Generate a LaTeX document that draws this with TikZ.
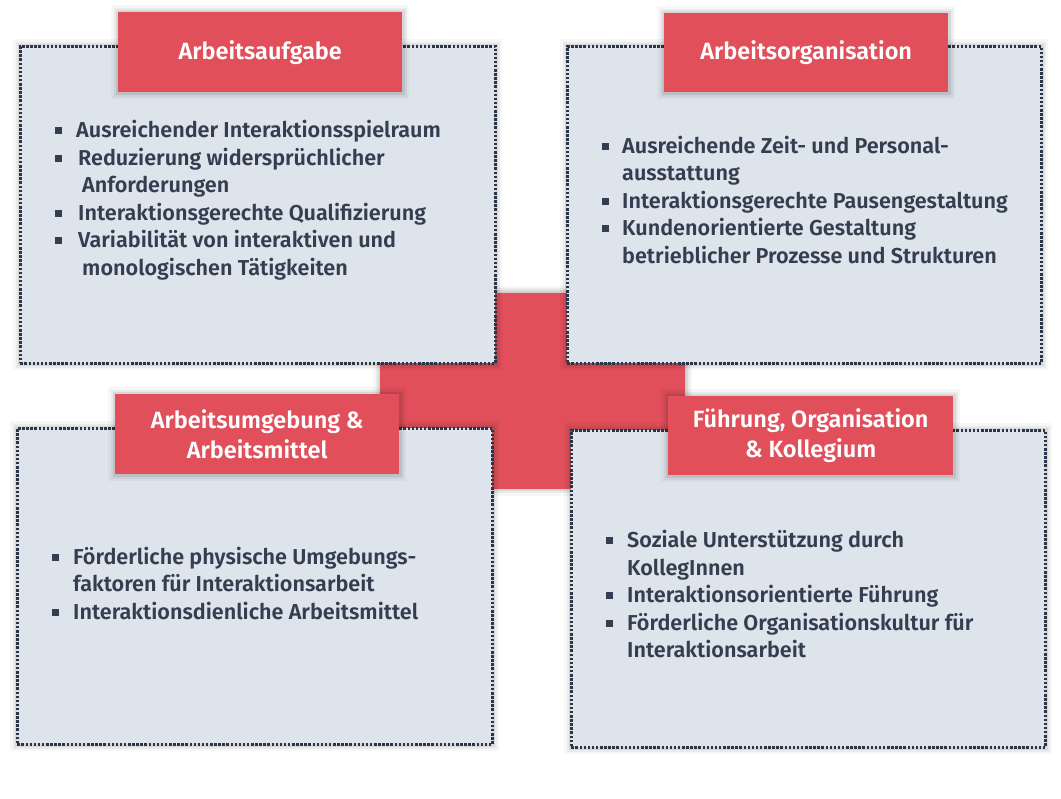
\documentclass[tikz,border=0pt]{standalone}
\usepackage{fontspec}
\setmainfont{Fira Sans SemiBold}
\newfontfamily\titlefont{Fira Sans SemiBold}
\usetikzlibrary{calc}
\definecolor{crossred}{HTML}{E04F5A}
\definecolor{boxfill}{HTML}{DEE4EB}
\definecolor{dotline}{HTML}{2A3548}
\definecolor{bodytext}{HTML}{333F50}
\newcommand\bul{\textcolor{bodytext}{\rule[3.5pt]{7pt}{7pt}}}
\tikzset{
  softshadow/.style={
    preaction={draw=black,solid,draw opacity=0.03,line width=14pt},
    preaction={draw=black,solid,draw opacity=0.05,line width=9pt},
    preaction={draw=black,solid,draw opacity=0.08,line width=5pt}},
  panel/.style={softshadow, rectangle, fill=boxfill, draw=dotline,
    line width=2.6pt, dash pattern=on 2.5pt off 1.6pt, inner sep=0pt, anchor=north west},
  titlebox/.style={softshadow, rectangle, fill=crossred, text=white, inner sep=0pt,
    anchor=north west, align=center, font=\titlefont\fontsize{23.5}{30}\selectfont},
  itemtext/.style={anchor=base west, inner sep=0pt, text=bodytext,
    font=\fontsize{21.6}{27.5}\selectfont},
}
\begin{document}
\begin{tikzpicture}[x=1pt,y=-1pt]
\useasboundingbox[fill=white] (0,0) rectangle (1061,799);
% cross
\fill[crossred, softshadow] (482,293) -- (583,293) -- (583,343) -- (685,343) -- (685,440)
  -- (583,440) -- (583,489) -- (482,489) -- (482,440) -- (380,440) -- (380,343)
  -- (482,343) -- cycle;
% panels
\node[panel, minimum width=475pt, minimum height=317pt] (b1) at (19,45) {};
\node[panel, minimum width=474pt, minimum height=317pt] (b2) at (566,45) {};
\node[panel, minimum width=475pt, minimum height=316pt] (b3) at (16,427) {};
\node[panel, minimum width=474pt, minimum height=317pt] (b4) at (570,429) {};
% titles
\node[titlebox, minimum width=284pt, minimum height=80pt] (t1) at (118,12) {Arbeitsaufgabe};
\node[titlebox, minimum width=284pt, minimum height=79pt] (t2) at (664,13) {Arbeitsorganisation};
\node[titlebox, minimum width=284pt, minimum height=80pt] (t3) at (115,394) {Arbeitsumgebung \&\\Arbeitsmittel};
\node[titlebox, minimum width=285pt, minimum height=79pt] (t4) at (668,396) {Führung, Organisation\\\& Kollegium};
% items
\node[itemtext] (i1) at (55,138) {\begin{tabular}[t]{@{}l@{\hspace{14pt}}l@{}}
\bul & Ausreichender Interaktionsspielraum\\
\bul & \hspace*{2pt}Reduzierung widersprüchlicher\\
     & \hspace*{6pt}Anforderungen\\
\bul & \hspace*{2pt}Interaktionsgerechte Qualifizierung\\
\bul & \hspace*{2pt}Variabilität von interaktiven und\\
     & \hspace*{6pt}monologischen Tätigkeiten
\end{tabular}};
\node[itemtext] (i2) at (602,153.5) {\begin{tabular}[t]{@{}l@{\hspace{13pt}}l@{}}
\bul & Ausreichende Zeit- und Personal-\\
     & ausstattung\\
\bul & Interaktionsgerechte Pausengestaltung\\
\bul & Kundenorientierte Gestaltung\\
     & betrieblicher Prozesse und Strukturen
\end{tabular}};
\node[itemtext] (i3) at (52,564.5) {\begin{tabular}[t]{@{}l@{\hspace{14pt}}l@{}}
\bul & Förderliche physische Umgebungs-\\
     & faktoren für Interaktionsarbeit\\
\bul & Interaktionsdienliche Arbeitsmittel
\end{tabular}};
\node[itemtext] (i4) at (606,547.5) {\begin{tabular}[t]{@{}l@{\hspace{14pt}}l@{}}
\bul & Soziale Unterstützung durch\\
     & KollegInnen\\
\bul & Interaktionsorientierte Führung\\
\bul & Förderliche Organisationskultur für\\
     & Interaktionsarbeit
\end{tabular}};
\end{tikzpicture}
\end{document}
